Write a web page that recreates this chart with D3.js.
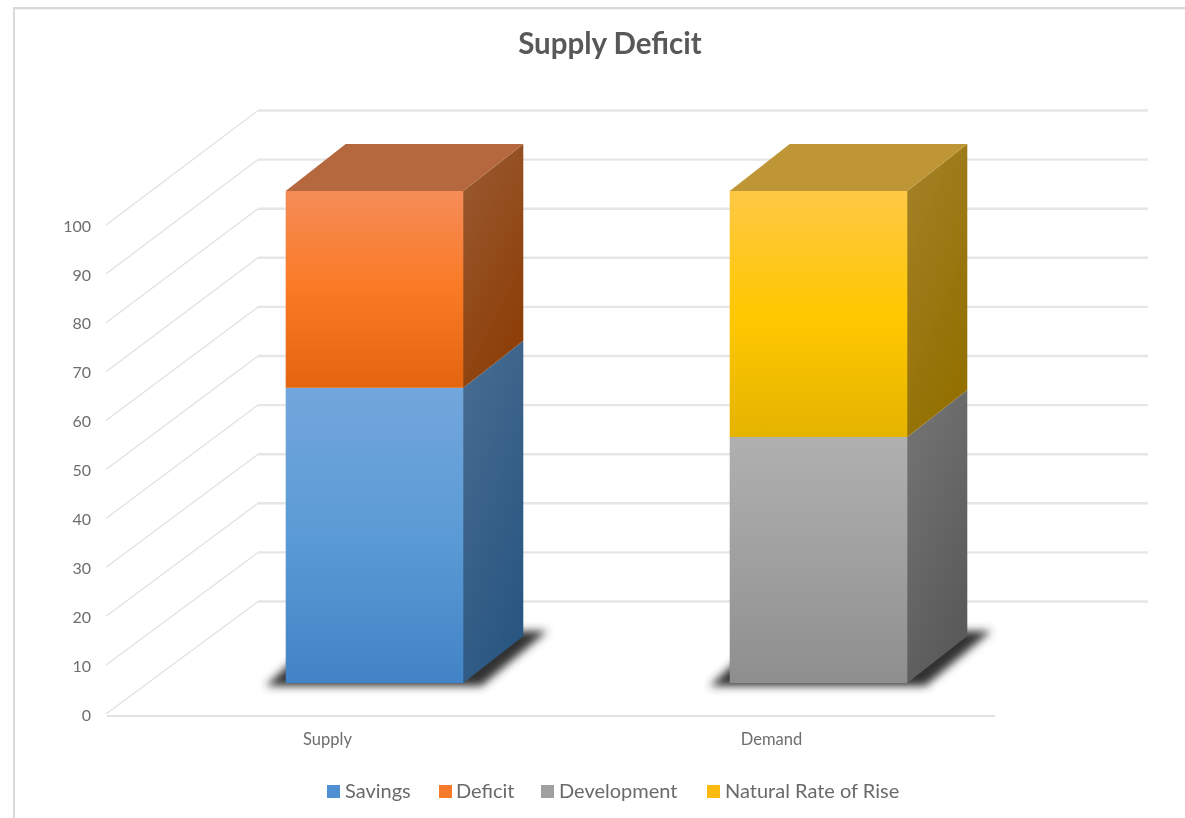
<!DOCTYPE html>
<html>
<head>
<meta charset="utf-8">
<title>Supply Deficit</title>
<script src="https://cdn.jsdelivr.net/npm/d3@7"></script>
<style>
  html, body { margin: 0; padding: 0; background: #fff; }
  svg { display: block; }
  text { font-family: Lato, "Open Sans", sans-serif; }
</style>
</head>
<body>
<div id="chart"></div>
<script>
// chart values
const categories = ["Supply", "Demand"];
const seriesNames = ["Savings", "Deficit", "Development", "Natural Rate of Rise"];
const savings = [60, 0];
const deficit = [40, 0];
const development = [0, 50];
const naturalRate = [0, 50];
const yTicks = [0, 10, 20, 30, 40, 50, 60, 70, 80, 90, 100];

const width = 1185, height = 818;

const svg = d3.select("#chart").append("svg")
    .attr("width", width)
    .attr("height", height);

const defs = svg.append("defs");

// front, side and top colours of each series
const colors = {
    "Savings": {front: ["#72a6dc", "#5b9bd5", "#4183c6"], side: ["#4a6d92", "#2a5781"], top: "#5f86ae", legend: "#4f90d2"},
    "Deficit": {front: ["#f58c58", "#fa7a24", "#e3650f"], side: ["#9a5b33", "#8d3f08"], top: "#b5683e", legend: "#f57a2c"},
    "Development": {front: ["#b0b0b0", "#a0a0a0", "#8e8e8e"], side: ["#767676", "#5a5a5a"], top: "#8a8a8a", legend: "#a0a0a0"},
    "Natural Rate of Rise": {front: ["#ffc845", "#ffc800", "#e5b400"], side: ["#a58229", "#937000"], top: "#bf9635", legend: "#fdbb10"}
};

seriesNames.forEach((name, i) => {
    const front = defs.append("linearGradient")
        .attr("id", `front${i}`).attr("x1", 0).attr("y1", 0).attr("x2", 0).attr("y2", 1);
    colors[name].front.forEach((c, j) => {
        front.append("stop").attr("offset", j / 2).attr("stop-color", c);
    });
    const side = defs.append("linearGradient")
        .attr("id", `side${i}`).attr("x1", 0).attr("y1", 0).attr("x2", 0.5).attr("y2", 1);
    colors[name].side.forEach((c, j) => {
        side.append("stop").attr("offset", j).attr("stop-color", c);
    });
});

defs.append("filter").attr("id", "shadow")
    .attr("x", "-20%").attr("y", "-50%").attr("width", "140%").attr("height", "200%")
    .append("feGaussianBlur").attr("stdDeviation", 4);

defs.append("filter").attr("id", "soft")
    .attr("x", "-10%").attr("y", "-20%").attr("width", "120%").attr("height", "140%")
    .append("feGaussianBlur").attr("stdDeviation", 0.6);

// chart frame (cut off on the right and at the bottom)
svg.append("path")
    .attr("d", `M14,${height}V8H${width}`)
    .attr("fill", "none")
    .attr("stroke", "#d9d9d9")
    .attr("stroke-width", 2);
svg.append("line")
    .attr("x1", 15).attr("x2", width).attr("y1", 9.5).attr("y2", 9.5)
    .attr("stroke", "#f2f2f2");

// scales: one for each depth plane of the 3D box
const yFront = d3.scaleLinear().domain([0, 100]).range([714, 225]);
const yBack = d3.scaleLinear().domain([0, 100]).range([601.5, 110.5]);
const yBar = d3.scaleLinear().domain([0, 100]).range([683, 191]);
const x = d3.scaleBand().domain(categories).range([107, 995]);

// wall and side gridlines
svg.append("g").selectAll("line")
    .data(yTicks)
    .enter().append("line")
    .attr("x1", 258)
    .attr("x2", 1148)
    .attr("y1", d => yBack(d))
    .attr("y2", d => yBack(d))
    .attr("stroke", "#e6e6e6")
    .attr("stroke-width", 2.4);

svg.append("g").selectAll("line")
    .data(yTicks)
    .enter().append("line")
    .attr("x1", 106)
    .attr("x2", 258)
    .attr("y1", d => yFront(d))
    .attr("y2", d => yBack(d))
    .attr("stroke", "#e0e0e0")
    .attr("stroke-width", 1.2);

// front floor edge
svg.append("line")
    .attr("x1", 107).attr("x2", 995).attr("y1", 716).attr("y2", 716)
    .attr("stroke", "#e2e2e2")
    .attr("stroke-width", 2);

// Y axis
const yAxis = svg.append("g")
    .attr("transform", "translate(91,1)")
    .attr("filter", "url(#soft)")
    .call(d3.axisLeft(yFront).tickValues(yTicks).tickSize(0).tickPadding(0));
yAxis.select(".domain").remove();
yAxis.selectAll("text")
    .attr("font-family", "Lato, 'Open Sans', sans-serif")
    .attr("font-size", 16)
    .attr("fill", "#6e6e6e");

// X axis
const xAxis = svg.append("g")
    .attr("transform", "translate(-1.5,733)")
    .attr("filter", "url(#soft)")
    .call(d3.axisBottom(x).tickSize(0).tickPadding(0));
xAxis.select(".domain").remove();
xAxis.selectAll("text")
    .attr("font-family", "Lato, 'Open Sans', sans-serif")
    .attr("font-size", 16.5)
    .attr("fill", "#6e6e6e");

// stack the series
const table = categories.map((c, i) => ({
    category: c,
    "Savings": savings[i],
    "Deficit": deficit[i],
    "Development": development[i],
    "Natural Rate of Rise": naturalRate[i]
}));
const stacked = d3.stack().keys(seriesNames)(table);

// box geometry
const shiftX = 45.5;
const depthX = 60;
const depthY = 47;
const barWidth = x.bandwidth() * 0.4;
const barLeft = c => x(c) + x.bandwidth() / 2 + shiftX - barWidth / 2;

// floor shadows
svg.append("g").selectAll("path")
    .data(categories)
    .enter().append("path")
    .attr("d", c => {
        const l = barLeft(c), r = l + barWidth, b = yBar(0);
        return `M${l - 20},${b + 3}L${r + 18},${b + 3}L${r + 84},${b - 52}L${l + 40},${b - 52}Z`;
    })
    .attr("fill", "#333")
    .attr("filter", "url(#shadow)");

// bars, bottom segment first so the upper side face overlaps it cleanly
stacked.forEach((layer, i) => {
    const name = seriesNames[i];
    const g = svg.append("g").attr("class", "series");
    const parts = layer.map((d, j) => ({c: categories[j], y0: d[0], y1: d[1]}))
        .filter(d => d.y1 > d.y0);

    g.selectAll(".side")
        .data(parts)
        .enter().append("path")
        .attr("class", "side")
        .attr("d", d => {
            const r = barLeft(d.c) + barWidth;
            return `M${r - 1},${yBar(d.y0)}L${r},${yBar(d.y0)}L${r + depthX},${yBar(d.y0) - depthY}` +
                `L${r + depthX},${yBar(d.y1) - depthY}L${r},${yBar(d.y1)}L${r - 1},${yBar(d.y1)}Z`;
        })
        .attr("fill", `url(#side${i})`);

    g.selectAll(".top")
        .data(parts.filter(d => d.y1 === 100))
        .enter().append("path")
        .attr("class", "top")
        .attr("d", d => {
            const l = barLeft(d.c), t = yBar(d.y1);
            return `M${l},${t}L${l + depthX},${t - depthY}L${l + barWidth + depthX},${t - depthY}L${l + barWidth},${t}Z`;
        })
        .attr("fill", colors[name].top);

    g.selectAll(".front")
        .data(parts)
        .enter().append("rect")
        .attr("class", "front")
        .attr("x", d => barLeft(d.c))
        .attr("y", d => yBar(d.y1))
        .attr("width", barWidth)
        .attr("height", d => yBar(d.y0) - yBar(d.y1))
        .attr("fill", `url(#front${i})`);
});

// title
svg.append("text")
    .attr("x", 610)
    .attr("y", 54)
    .attr("text-anchor", "middle")
    .attr("font-size", 29.5)
    .attr("font-weight", 700)
    .attr("fill", "#595959")
    .attr("filter", "url(#soft)")
    .text("Supply Deficit");

// legend
const legendX = [327, 439, 541, 707];
const legend = svg.append("g").selectAll("g")
    .data(seriesNames)
    .enter().append("g")
    .attr("transform", (d, i) => `translate(${legendX[i]},785)`);

legend.append("rect")
    .attr("width", 13)
    .attr("height", 13)
    .attr("fill", d => colors[d].legend);

legend.append("text")
    .attr("x", (d, i) => i === 1 ? 17 : 18)
    .attr("y", 13)
    .attr("font-size", 20)
    .attr("fill", "#6a6a6a")
    .attr("filter", "url(#soft)")
    .text(d => d);
</script>
</body>
</html>
